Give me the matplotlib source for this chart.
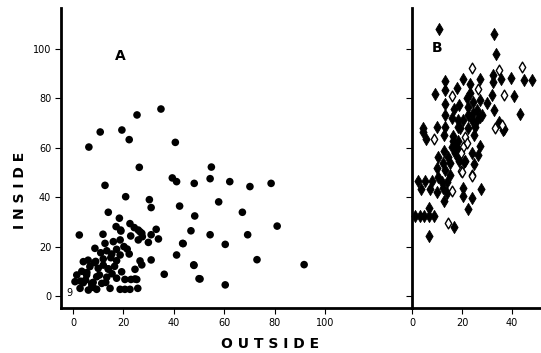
import matplotlib
matplotlib.use("Agg")
import matplotlib.pyplot as plt
import numpy as np

# ---- Panel A data (OUTSIDE vs INSIDE), filled circles ----
a_x = [6.3, 10.8, 19.4, 22.3, 25.4, 34.9, 40.6, 26.3, 39.4, 41.1, 48.1,
       54.9, 54.4, 62.2, 70.2, 78.6, 42.3, 57.8, 48.3, 67.2, 46.8, 54.4,
       69.3, 81.0, 43.7, 60.4, 47.9, 73.0, 91.7, 50.4, 60.4,
       12.7, 20.9, 30.3, 31.0, 14.0, 2.5, 18.4, 36.2, 41.1, 43.5, 48.0, 50.0,
       11.9, 17.1, 19.0, 22.6, 24.3, 26.6, 22.9, 18.7, 25.9, 27.5, 29.9,
       31.0, 33.0, 33.9, 12.7, 8.7, 13.4, 17.3, 20.2, 15.4, 18.7, 22.3,
       12.0, 17.3, 26.6, 31.0, 4.1, 6.7, 10.0, 14.0, 24.6, 19.3, 1.5, 5.4,
       9.4, 13.4, 17.3, 20.6, 23.0, 25.3, 0.8, 4.1, 7.4, 11.4, 2.8, 6.1,
       9.4, 14.7, 18.7, 20.6, 22.6, 25.7, 18.9, 25.9, 27.3, 27.3, 24.6,
       3.5, 5.0, 7.5, 8.5, 10.5, 12.0, 15.5, 16.5, 11.0, 3.0, 5.5, 8.0,
       13.0, 15.0, 9.0, 6.0, 21.5, 16.0, 14.0, 8.0]
a_y = [60.3, 66.4, 67.2, 63.3, 73.3, 75.7, 62.2, 52.1, 47.8, 46.3, 45.6,
       52.2, 47.5, 46.3, 44.3, 45.6, 36.4, 38.1, 32.4, 33.9, 26.4, 24.8,
       24.8, 28.3, 21.2, 20.9, 12.6, 14.7, 12.7, 6.9, 4.5,
       44.8, 40.2, 39.0, 35.8, 33.9, 24.7, 31.5, 8.8, 16.6, 21.3, 12.4, 7.0,
       25.0, 28.1, 26.3, 29.3, 27.7, 26.0, 24.3, 22.7, 22.7, 24.0, 21.7,
       24.8, 27.0, 23.1, 21.3, 19.3, 18.3, 18.9, 20.0, 17.0, 16.6, 17.0,
       15.0, 14.3, 14.2, 14.6, 13.9, 11.9, 11.2, 10.9, 10.8, 9.8, 8.5, 8.5,
       7.8, 7.6, 7.2, 6.7, 6.7, 6.7, 5.8, 5.4, 5.1, 5.1, 3.1, 2.4,
       2.7, 3.1, 2.7, 2.7, 2.7, 3.1, 26.7, 26.7, 25.4, 12.6, 6.9,
       10.0, 6.5, 4.0, 13.5, 8.5, 12.5, 9.0, 12.0, 17.5, 6.0, 9.5, 3.5,
       5.5, 15.5, 14.0, 14.5, 19.0, 22.0, 11.0, 5.5]

# ---- Panel B data: filled diamonds ----
b_fx = [10.9, 32.9, 33.6, 13.2, 20.5, 27.2, 32.5, 32.5, 35.5, 39.6, 44.9,
        47.9, 23.2, 17.9, 13.2, 9.2, 23.2, 21.9, 24.5, 27.2, 29.9, 31.9,
        40.8, 13.2, 16.9, 18.9, 22.5, 25.9, 32.9, 43.2, 13.2, 15.9, 20.5,
        23.9, 27.2, 9.9, 13.2, 18.5, 4.5, 34.8, 36.9,
        4.5, 5.5, 12.9, 16.5, 24.9, 17.2, 17.2, 23.9, 27.2, 26.3, 20.9,
        12.9, 10.5, 14.5, 12.5, 9.9, 13.2, 15.2, 10.5, 11.9, 13.9, 2.5,
        5.2, 7.9, 3.6, 7.2, 9.9, 12.5, 13.9, 20.5, 20.5, 27.6, 23.9, 12.9,
        22.5, 1.2, 3.2, 4.9, 6.8, 8.7, 6.8, 16.9, 6.8,
        24.9, 18.7, 21.3, 24.5, 27.9, 36.5,
        18.5, 22.5, 25.9, 19.2, 22.5, 25.2, 18.5, 15.9, 16.5, 18.5, 18.5, 15.2]
b_fy = [108.1, 106.1, 97.8, 87.2, 87.9, 87.9, 89.5, 86.8, 87.7, 88.4, 87.4,
        87.4, 85.8, 84.1, 83.4, 81.8, 82.1, 80.0, 78.7, 79.4, 78.0, 81.4,
        81.1, 77.7, 75.6, 77.3, 76.4, 75.3, 75.3, 73.6, 73.3, 71.9, 71.3,
        71.3, 72.6, 68.6, 68.6, 68.6, 67.9, 70.6, 67.5,
        66.5, 63.4, 65.2, 62.6, 65.2, 60.5, 57.8, 57.8, 60.7, 57.1, 54.4,
        58.8, 56.4, 56.4, 53.7, 51.7, 51.0, 49.0, 48.3, 46.3, 46.3, 46.7,
        46.7, 46.7, 43.2, 43.2, 42.2, 43.6, 41.6, 43.6, 40.5, 43.3, 39.5, 38.6,
        35.2, 32.4, 32.4, 32.4, 32.4, 32.4, 35.5, 27.8, 24.3,
        53.4, 54.7, 54.7, 74.0, 73.3, 67.2,
        71.3, 73.3, 71.3, 67.9, 67.9, 68.6, 62.6, 60.5, 64.6, 59.4, 55.7, 53.7]

# ---- Panel B data: open diamonds ----
b_ox = [23.9, 34.8, 43.9, 15.9, 26.5, 36.9, 33.2, 8.9, 21.2, 21.9, 20.5,
        19.6, 19.6, 23.9, 15.9, 14.5, 35.9, 19.9, 23.9]
b_oy = [92.2, 91.5, 92.8, 81.0, 83.8, 81.4, 67.9, 63.6, 64.5, 62.1, 60.5,
        58.0, 50.6, 49.0, 42.6, 29.7, 69.2, 50.3, 48.7]

a_xticks = [0, 20, 40, 60, 80, 100]
a_yticks = [0, 20, 40, 60, 80, 100]
b_xticks = [0, 20, 40]

W, H = 541, 353
fig = plt.figure(figsize=(W / 100, H / 100), dpi=100)

bold_font = ['Liberation Sans Narrow', 'DejaVu Sans']

axA = fig.add_axes([61 / W, 1 - 308 / H, (412 - 61) / W, (308 - 8) / H])
axB = fig.add_axes([412 / W, 1 - 308 / H, (W - 412) / W, (308 - 8) / H])

axA.scatter(a_x, a_y, s=30, c='black', edgecolors='none', zorder=3)
axA.set_xlim(-4.76, 134.5)
axA.set_ylim(-4.86, 116.6)
axA.set_xticks(a_xticks)
axA.set_yticks(a_yticks)

axB.scatter(b_fx, b_fy, s=38, marker='d', c='black', edgecolors='black',
            linewidths=0.6, zorder=3, clip_on=False)
axB.scatter(b_ox, b_oy, s=30, marker='d', c='white', edgecolors='black',
            linewidths=1.0, zorder=4, clip_on=False)
axB.set_xlim(0, 51.6)
axB.set_ylim(-4.86, 116.6)
axB.set_xticks(b_xticks)
axB.set_yticks(a_yticks)
axB.set_yticklabels([])

for ax in (axA, axB):
    ax.spines['top'].set_visible(False)
    ax.spines['right'].set_visible(False)
    ax.spines['left'].set_linewidth(2.0)
    ax.spines['bottom'].set_linewidth(2.0)
    ax.tick_params(axis='both', direction='out', length=4, width=0.8,
                   labelsize=7, pad=3)
    ax.set_facecolor('none')

axA.text(18.7, 97.2, 'A', fontsize=10, fontweight='bold', family=bold_font,
         ha='center', va='center')
axB.text(10, 100.4, 'B', fontsize=10, fontweight='bold', family=bold_font,
         ha='center', va='center')
axA.text(0.0, 1.2, '9', fontsize=7, ha='right', va='center')

fig.text(20 / W, 1 - 190 / H, 'I N S I D E', rotation=90, fontsize=10,
         fontweight='bold', family=bold_font, ha='center', va='center')
fig.text(270 / W, 1 - 344 / H, 'O U T S I D E', fontsize=10,
         fontweight='bold', family=bold_font, ha='center', va='center')

fig.savefig('out.png', dpi=100)
